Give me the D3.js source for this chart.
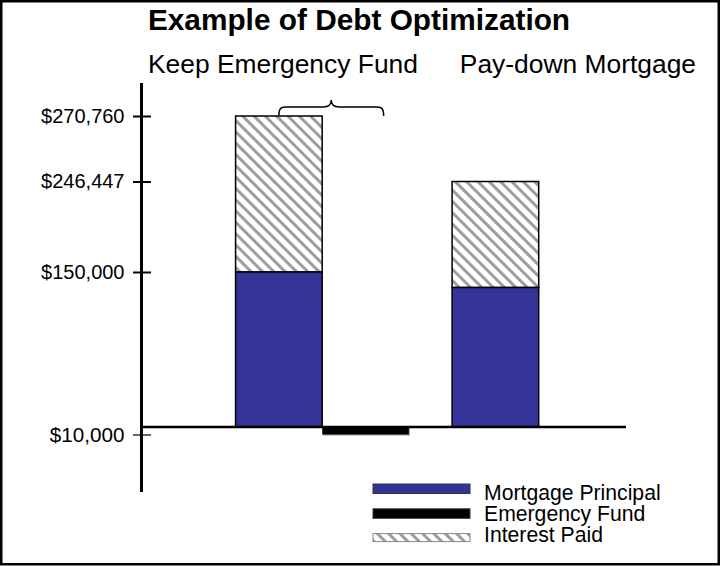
<!DOCTYPE html>
<html>
<head>
<meta charset="utf-8">
<script src="https://cdn.jsdelivr.net/npm/d3@7"></script>
<style>
	body { margin: 0; background: white; }
	svg { display: block; font-family: "Liberation Sans", Arial, sans-serif; }
</style>
</head>
<body>
<div id="chart"></div>
<script>
// data
var categories = ["Keep Emergency Fund", "Pay-down Mortgage"];
var principal = [150000, 135000];
var interest = [120760, 111447];      // stacks reach 270,760 and 246,447
var emergencyFund = [10000, 0];       // drawn below the base line
var tickValues = [270760, 246447, 150000, -10000];
var legendNames = ["Mortgage Principal", "Emergency Fund", "Interest Paid"];
var legendKeys = ["principal", "fund", "interest"];

var W = 720, H = 566;
var blue = "#333399";

var svg = d3.select("#chart").append("svg")
	.attr("width", W)
	.attr("height", H);

// hatch for interest
var pat = svg.append("defs").append("pattern")
	.attr("id", "hatch")
	.attr("patternUnits", "userSpaceOnUse")
	.attr("width", 8)
	.attr("height", 8)
	.attr("patternTransform", "rotate(-45)");
pat.append("rect").attr("width", 8).attr("height", 8).attr("fill", "white");
pat.append("rect").attr("x", 0).attr("width", 3).attr("height", 8).attr("fill", "#9e9e9e");

// the picture is not to scale, so the scale is piecewise through the labelled ticks
var y = d3.scaleLinear()
	.domain([-10000, 0, 150000, 246447, 270760])
	.range([434.5, 427, 272, 181.5, 116]);

var x = d3.scaleBand()
	.domain(categories)
	.range([141, 626])
	.paddingInner(0.6)
	.paddingOuter(0.42)
	.align(0.52);

var bw = x.bandwidth();

// border
svg.append("rect")
	.attr("x", 1.25).attr("y", 1.25)
	.attr("width", W - 2.5).attr("height", H - 3)
	.attr("fill", "none")
	.attr("stroke", "black")
	.attr("stroke-width", 2.5);

svg.append("text")//title
	.attr("x", 359)
	.attr("y", 30)
	.attr("text-anchor", "middle")
	.attr("font-size", 29.8)
	.attr("font-weight", "bold")
	.text("Example of Debt Optimization");

svg.selectAll(".sub")
	.data(categories)
	.enter().append("text")
	.attr("class", "sub")
	.attr("x", function(d, i){ return i == 0 ? 148 : 696; })
	.attr("y", 73)
	.attr("text-anchor", function(d, i){ return i == 0 ? "start" : "end"; })
	.attr("font-size", 26.4)
	.text(function(d){ return d; });

// bars
var bars = svg.selectAll(".bar")
	.data(categories)
	.enter().append("g")
	.attr("class", "bar");

bars.append("rect")
	.attr("x", function(d){ return x(d); })
	.attr("y", function(d, i){ return y(principal[i] + interest[i]); })
	.attr("width", bw)
	.attr("height", function(d, i){ return y(principal[i]) - y(principal[i] + interest[i]); })
	.attr("fill", "url(#hatch)")
	.attr("stroke", "black")
	.attr("stroke-width", 1.5);

bars.append("rect")
	.attr("x", function(d){ return x(d); })
	.attr("y", function(d, i){ return y(principal[i]); })
	.attr("width", bw)
	.attr("height", function(d, i){ return y(0) - y(principal[i]); })
	.attr("fill", blue)
	.attr("stroke", "black")
	.attr("stroke-width", 1.5);

// emergency fund, next to its bar, below the base line
var fund = categories.filter(function(d, i){ return emergencyFund[i] > 0; });
svg.selectAll(".fundShadow")
	.data(fund)
	.enter().append("rect")
	.attr("x", function(d){ return x(d) + bw + 1; })
	.attr("y", y(0) + 1)
	.attr("width", bw)
	.attr("height", function(d){ return y(-emergencyFund[categories.indexOf(d)]) - y(0); })
	.attr("fill", "#999");
svg.selectAll(".fund")
	.data(fund)
	.enter().append("rect")
	.attr("x", function(d){ return x(d) + bw; })
	.attr("y", y(0))
	.attr("width", bw)
	.attr("height", function(d){ return y(-emergencyFund[categories.indexOf(d)]) - y(0); })
	.attr("fill", "black");

// base line
svg.append("line")
	.attr("x1", 141).attr("x2", 626)
	.attr("y1", y(0)).attr("y2", y(0))
	.attr("stroke", "black")
	.attr("stroke-width", 2.5);

// y axis
var axis = svg.append("g")
	.attr("transform", "translate(141.5,0)")
	.call(d3.axisLeft(y)
		.tickValues(tickValues)
		.tickFormat(function(v){ return d3.format("$,")(Math.abs(v)); })
		.tickSize(8.5)
		.tickPadding(8.5));
axis.select(".domain").remove();
axis.selectAll(".tick line")
	.attr("x2", -8.5)
	.attr("x1", 9.5)
	.attr("stroke", "black")
	.attr("stroke-width", function(d){ return d < 0 ? 1.2 : 2; });
axis.selectAll(".tick text")
	.attr("font-size", function(d){ return d < 0 ? 20.7 : 20; })
	.attr("font-family", "Liberation Sans, Arial, sans-serif")
	.attr("fill", "black");
axis.append("line")
	.attr("y1", 83).attr("y2", 492)
	.attr("stroke", "black")
	.attr("stroke-width", 3);

// brace over the first stack
var top0 = y(principal[0] + interest[0]);
var bx0 = x(categories[0]) + bw / 2, bx1 = bx0 + bw * 1.21, bm = (bx0 + bx1) / 2;
svg.append("path")
	.attr("d", "M" + bx0 + "," + (top0 - 0.5) +
		"C" + bx0 + "," + (top0 - 9) + " " + (bx0 + 3) + "," + (top0 - 9) + " " + (bx0 + 8) + "," + (top0 - 9) +
		"L" + (bm - 8) + "," + (top0 - 9) +
		"C" + (bm - 3) + "," + (top0 - 9) + " " + bm + "," + (top0 - 11) + " " + bm + "," + (top0 - 16) +
		"C" + bm + "," + (top0 - 11) + " " + (bm + 3) + "," + (top0 - 9) + " " + (bm + 8) + "," + (top0 - 9) +
		"L" + (bx1 - 8) + "," + (top0 - 9) +
		"C" + (bx1 - 3) + "," + (top0 - 9) + " " + bx1 + "," + (top0 - 9) + " " + bx1 + "," + top0)
	.attr("fill", "none")
	.attr("stroke", "black")
	.attr("stroke-width", 1.5);

// legend
var legend = svg.selectAll(".legend")
	.data(legendNames)
	.enter().append("g")
	.attr("class", "legend");

legend.append("rect")
	.attr("x", 373)
	.attr("y", function(d, i){ return 484 + i * 24.8; })
	.attr("width", 97)
	.attr("height", function(d, i){ return legendKeys[i] == "interest" ? 8 : 9.5; })
	.attr("fill", function(d, i){ return legendKeys[i] == "principal" ? blue : legendKeys[i] == "fund" ? "black" : "url(#hatch)"; })
	.attr("stroke", function(d, i){ return legendKeys[i] == "interest" ? "#888" : "#333"; })
	.attr("stroke-width", 1);

legend.append("text")
	.attr("x", 484)
	.attr("y", function(d, i){ return 499.5 + i * 21; })
	.attr("font-size", 21.2)
	.text(function(d){ return d; });
</script>
</body>
</html>
